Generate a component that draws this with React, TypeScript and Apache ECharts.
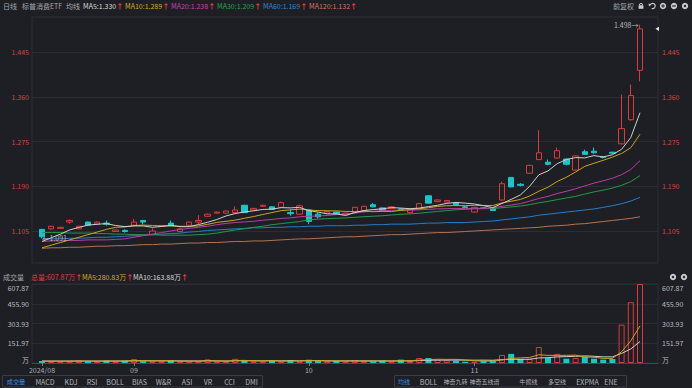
import React, { useEffect, useRef } from 'react';
import * as echarts from 'echarts';

const W = 692;
const H = 388;
const BG = '#1e1f24';
const UP = '#d93b3b';
const DOWN = '#1fc4c8';
const RED_TXT = '#dc403b';
const GRID_LINE = '#2c2d33';
const FONT = '"Noto Sans CJK SC", "Noto Sans", sans-serif';

const dates = [
  '2024-08-19', '2024-08-20', '2024-08-21', '2024-08-22', '2024-08-23', '2024-08-26', '2024-08-27', '2024-08-28', '2024-08-29', '2024-08-30',
  '2024-09-02', '2024-09-03', '2024-09-04', '2024-09-05', '2024-09-06', '2024-09-09', '2024-09-10', '2024-09-11', '2024-09-12', '2024-09-13',
  '2024-09-18', '2024-09-19', '2024-09-20', '2024-09-23', '2024-09-24', '2024-09-25', '2024-09-26', '2024-09-27', '2024-09-30',
  '2024-10-08', '2024-10-09', '2024-10-10', '2024-10-11', '2024-10-14', '2024-10-15', '2024-10-16', '2024-10-17', '2024-10-18',
  '2024-10-21', '2024-10-22', '2024-10-23', '2024-10-24', '2024-10-25', '2024-10-28', '2024-10-29', '2024-10-30', '2024-10-31',
  '2024-11-01', '2024-11-04', '2024-11-05', '2024-11-06', '2024-11-07', '2024-11-08', '2024-11-11', '2024-11-12', '2024-11-13',
  '2024-11-14', '2024-11-15', '2024-11-18', '2024-11-19', '2024-11-20', '2024-11-21', '2024-11-22', '2024-11-25', '2024-11-26', '2024-11-27',
];

const opens = [
  1.108, 1.109, 1.110, 1.122, 1.109, 1.122, 1.118, 1.120, 1.104, 1.106,
  1.116, 1.125, 1.098, 1.114, 1.120, 1.104, 1.116, 1.122, 1.133, 1.139,
  1.139, 1.140, 1.154, 1.145, 1.152, 1.151, 1.150, 1.140, 1.137,
  1.145, 1.137, 1.139, 1.141, 1.136, 1.140, 1.144, 1.155, 1.149, 1.148, 1.147, 1.140, 1.147, 1.172, 1.161, 1.160, 1.159, 1.151,
  1.141, 1.149, 1.148, 1.164, 1.207, 1.194, 1.215, 1.241, 1.236, 1.244, 1.242, 1.221, 1.256, 1.257, 1.246, 1.255, 1.271, 1.317, 1.411,
];
const closes = [
  1.094, 1.114, 1.112, 1.125, 1.114, 1.116, 1.122, 1.118, 1.107, 1.104,
  1.122, 1.122, 1.105, 1.115, 1.115, 1.109, 1.122, 1.125, 1.137, 1.141,
  1.143, 1.145, 1.140, 1.148, 1.154, 1.146, 1.159, 1.138, 1.153,
  1.123, 1.132, 1.142, 1.137, 1.139, 1.150, 1.152, 1.151, 1.144, 1.151, 1.145, 1.146, 1.157, 1.158, 1.164, 1.163, 1.155, 1.150,
  1.150, 1.148, 1.144, 1.195, 1.189, 1.192, 1.230, 1.254, 1.232, 1.258, 1.232, 1.248, 1.251, 1.254, 1.245, 1.253, 1.300, 1.363, 1.490,
];
const lows = [
  1.091, 1.108, 1.109, 1.119, 1.108, 1.115, 1.117, 1.115, 1.103, 1.102,
  1.115, 1.118, 1.097, 1.113, 1.114, 1.103, 1.115, 1.118, 1.132, 1.138,
  1.138, 1.139, 1.139, 1.144, 1.151, 1.145, 1.149, 1.134, 1.136,
  1.118, 1.129, 1.138, 1.136, 1.135, 1.139, 1.143, 1.150, 1.143, 1.147, 1.144, 1.139, 1.146, 1.157, 1.160, 1.159, 1.154, 1.149,
  1.140, 1.147, 1.143, 1.163, 1.188, 1.190, 1.214, 1.240, 1.230, 1.243, 1.230, 1.220, 1.250, 1.252, 1.243, 1.252, 1.270, 1.315, 1.390,
];
const highs = [
  1.109, 1.115, 1.113, 1.127, 1.115, 1.123, 1.123, 1.125, 1.108, 1.108,
  1.128, 1.126, 1.110, 1.116, 1.125, 1.110, 1.123, 1.135, 1.138, 1.142,
  1.144, 1.152, 1.155, 1.149, 1.155, 1.152, 1.161, 1.147, 1.155,
  1.146, 1.140, 1.143, 1.142, 1.140, 1.151, 1.153, 1.158, 1.150, 1.152, 1.148, 1.147, 1.158, 1.173, 1.165, 1.164, 1.160, 1.152,
  1.151, 1.150, 1.149, 1.199, 1.208, 1.196, 1.231, 1.297, 1.241, 1.264, 1.243, 1.249, 1.260, 1.264, 1.248, 1.256, 1.365, 1.384, 1.498,
];
// volume, 万
const volumes = [
  15, 13, 13, 13, 20, 13, 13, 18, 13, 18,
  30, 13, 13, 13, 20, 12, 12, 12, 28, 12, 12, 32, 18, 12, 12, 18, 13, 23, 13,
  25, 15, 13, 15, 13, 21, 13, 13, 18, 13, 26, 16, 38, 38, 26, 21, 18, 10,
  10, 16, 18, 62, 70, 31, 31, 123, 38, 70, 33, 38, 49, 33, 26, 31, 295, 468, 607.87,
];

const ma5Lead = [1.085, 1.092, 1.099, 1.107];
const ma10Lead = [1.073, 1.078, 1.083, 1.088, 1.093, 1.098, 1.103, 1.108, 1.112];
const ma20Lead = [1.085, 1.086, 1.086, 1.087, 1.087, 1.088, 1.088, 1.088, 1.089, 1.090, 1.093, 1.096, 1.099, 1.102, 1.105, 1.108, 1.110, 1.112, 1.114];
const ma30Lead = [
  1.102, 1.102, 1.102, 1.101, 1.101, 1.101, 1.100, 1.100, 1.099, 1.099,
  1.098, 1.098, 1.098, 1.097, 1.097, 1.097, 1.097, 1.098, 1.099,
  1.101, 1.104, 1.107, 1.109, 1.112, 1.114, 1.117, 1.119, 1.121, 1.123,
];
const ma60Values = [
  1.089, 1.090, 1.090, 1.091, 1.091, 1.092, 1.093, 1.093, 1.094, 1.095,
  1.096, 1.097, 1.098, 1.099, 1.100, 1.101, 1.103, 1.104, 1.106, 1.107,
  1.108, 1.109, 1.110, 1.111, 1.111, 1.112, 1.112, 1.113, 1.113, 1.114,
  1.114, 1.115, 1.115, 1.115, 1.116, 1.116, 1.117, 1.117, 1.118, 1.118,
  1.118, 1.119, 1.120, 1.120, 1.121, 1.121, 1.121, 1.122, 1.123, 1.124,
  1.126, 1.128, 1.130, 1.132, 1.135, 1.137, 1.139, 1.141, 1.143, 1.145,
  1.147, 1.150, 1.153, 1.157, 1.162, 1.169,
];
const ma120Values = [
  1.072, 1.073, 1.073, 1.074, 1.074, 1.075, 1.076, 1.076, 1.077, 1.077,
  1.078, 1.079, 1.079, 1.080, 1.080, 1.081, 1.082, 1.082, 1.083, 1.083,
  1.084, 1.085, 1.085, 1.086, 1.086, 1.087, 1.088, 1.089, 1.090, 1.090,
  1.091, 1.092, 1.093, 1.094, 1.094, 1.095, 1.096, 1.097, 1.098, 1.098,
  1.099, 1.100, 1.101, 1.102, 1.102, 1.103, 1.104, 1.105, 1.106, 1.107,
  1.108, 1.109, 1.110, 1.111, 1.112, 1.114, 1.115, 1.116, 1.118, 1.119,
  1.121, 1.123, 1.125, 1.127, 1.129, 1.132,
];
const volMa5Lead = [14, 14, 14, 15];
const volMa10Lead = [15, 15, 15, 15, 15, 15, 15, 15, 15];

const priceTicks = [1.105, 1.19, 1.275, 1.36, 1.445];
const priceMin = 1.044;
const priceMax = 1.5126;
const volTicks = [0, 151.97, 303.93, 455.9, 607.87];
const volMax = 607.87;

const maLegend = [
  { text: 'MA5:1.330', color: '#d6d6d6', x: 83 },
  { text: 'MA10:1.289', color: '#d4ad1c', x: 125 },
  { text: 'MA20:1.238', color: '#c640b2', x: 171 },
  { text: 'MA30:1.209', color: '#27a24c', x: 217 },
  { text: 'MA60:1.169', color: '#2d86d6', x: 263 },
  { text: 'MA120:1.132', color: '#d7735a', x: 309 },
];
const volLegend = [
  { text: '总量:607.87万', color: '#dc403b', x: 31 },
  { text: 'MA5:280.83万', color: '#d4ad1c', x: 82 },
  { text: 'MA10:163.88万', color: '#d6d6d6', x: 133 },
];
// [label, centre x, font size]
const leftTabs = [
  ['成交量', 16, 6.2], ['MACD', 45, 7], ['KDJ', 71, 7], ['RSI', 92, 7], ['BOLL', 115, 7], ['BIAS', 139.5, 7],
  ['W&R', 163.5, 7], ['ASI', 187, 7], ['VR', 208, 7], ['CCI', 229.5, 7], ['DMI', 251.5, 7],
] as [string, number, number][];
const rightTabs = [
  ['均线', 404, 6], ['BOLL', 428.5, 7], ['神奇九转', 455.5, 6], ['神奇五线谱', 484.5, 6], ['牛熊线', 528.5, 6],
  ['多空线', 557, 6], ['EXPMA', 587.5, 7], ['ENE', 611, 7],
] as [string, number, number][];

const lineColors = {
  ma5: '#cfcfcf', ma10: '#c9a51c', ma20: '#b83da5', ma30: '#1f9a46', ma60: '#257dca', ma120: '#b9704f',
};

function movingAverage(src: number[], n: number, lead: number[], digits: number): number[] {
  return src.map((_, i) => {
    if (i < n - 1) return lead[i];
    let s = 0;
    for (let k = i - n + 1; k <= i; k++) s += src[k];
    return +(s / n).toFixed(digits);
  });
}

const isMonthStart = (i: number) => i === 0 || dates[i].slice(0, 7) !== dates[i - 1].slice(0, 7);
const monthLabel = (i: number) => (i === 0 ? dates[0].slice(0, 7).replace('-', '/') : dates[i].slice(5, 7));

function txt(x: number, y: number, text: string, fill: string, align: string = 'left', size = 7) {
  return {
    type: 'text', x, y, silent: true,
    style: { text, fill, fontSize: size, fontFamily: FONT, align, verticalAlign: 'middle' },
  };
}
function legendTxt(x: number, y: number, text: string, color: string) {
  return {
    type: 'text', x, y, silent: true,
    style: {
      text: `{a|${text}}{b|↑}`,
      verticalAlign: 'middle',
      rich: {
        a: { fill: color, fontSize: 7, fontFamily: FONT },
        b: { fill: '#ff3b3b', fontSize: 7, fontFamily: FONT, fontWeight: 'bold' },
      },
    },
  };
}

function buildGraphics(): any[] {
  const g: any[] = [];
  g.push(txt(3, 6, '日线', '#a6a8ad'));
  g.push(txt(22, 6, '标普消费ETF', '#a6a8ad'));
  g.push(txt(66, 6, '均线', '#a6a8ad'));
  maLegend.forEach((m) => g.push(legendTxt(m.x, 6, m.text, m.color)));
  g.push(txt(613, 6, '前复权', '#a6a8ad'));
  // top-right icons
  const ic = '#c9cace';
  g.push({ type: 'rect', shape: { x: 638.6, y: 5.2, width: 4.8, height: 3.6 }, style: { fill: ic }, silent: true });
  g.push({ type: 'arc', shape: { cx: 641, cy: 5, r: 1.6, startAngle: Math.PI, endAngle: 0, clockwise: true }, style: { stroke: ic, lineWidth: 1, fill: 'none' }, silent: true });
  g.push({ type: 'arc', shape: { cx: 652.5, cy: 6, r: 2.6, startAngle: -Math.PI * 0.9, endAngle: Math.PI * 0.6, clockwise: true }, style: { stroke: ic, lineWidth: 1.1, fill: 'none' }, silent: true });
  g.push({ type: 'polygon', shape: { points: [[648.6, 3.4], [651.2, 4.4], [649, 6.4]] }, style: { fill: ic }, silent: true });
  [663, 674, 685].forEach((cx, k) => {
    g.push({ type: 'circle', shape: { cx, cy: 6, r: 3.2 }, style: { fill: ic }, silent: true });
    if (k === 0) {
      g.push({ type: 'line', shape: { x1: cx - 1.8, y1: 6, x2: cx + 1.8, y2: 6 }, style: { stroke: BG, lineWidth: 1 }, silent: true });
      g.push({ type: 'line', shape: { x1: cx, y1: 4.2, x2: cx, y2: 7.8 }, style: { stroke: BG, lineWidth: 1 }, silent: true });
    } else if (k === 1) {
      g.push({ type: 'line', shape: { x1: cx - 1.8, y1: 6, x2: cx + 1.8, y2: 6 }, style: { stroke: BG, lineWidth: 1.2 }, silent: true });
    } else {
      g.push({ type: 'circle', shape: { cx, cy: 6, r: 1.2 }, style: { fill: BG }, silent: true });
    }
  });
  // volume pane header
  g.push(txt(3, 276.5, '成交量', '#a6a8ad'));
  volLegend.forEach((m) => g.push(legendTxt(m.x, 276.5, m.text, m.color)));
  [673, 684].forEach((cx) => {
    g.push({ type: 'circle', shape: { cx, cy: 277, r: 3.2 }, style: { fill: ic }, silent: true });
    g.push({ type: 'circle', shape: { cx, cy: 277, r: 1.2 }, style: { fill: BG }, silent: true });
  });
  // bottom tab bars
  g.push({ type: 'rect', shape: { x: 2.5, y: 375.5, width: 260, height: 11.5 }, style: { fill: 'none', stroke: '#3a3c43', lineWidth: 1 }, silent: true });
  g.push({ type: 'rect', shape: { x: 394.5, y: 375.5, width: 232, height: 11.5 }, style: { fill: 'none', stroke: '#3a3c43', lineWidth: 1 }, silent: true });
  leftTabs.forEach(([t, x, s], k) => g.push(txt(x, 381.5, t, k === 0 ? '#3b8fe6' : '#b4b6bb', 'center', s)));
  rightTabs.forEach(([t, x, s], k) => g.push(txt(x, 381.5, t, k === 0 ? '#3b8fe6' : '#b4b6bb', 'center', s)));
  return g.map((e, i) => ({ ...e, id: 'g' + i }));
}

function buildOption(): any {
  const ma5 = movingAverage(closes, 5, ma5Lead, 4);
  const ma10 = movingAverage(closes, 10, ma10Lead, 4);
  const ma20 = movingAverage(closes, 20, ma20Lead, 4);
  const ma30 = movingAverage(closes, 30, ma30Lead, 4);
  const vma5 = movingAverage(volumes, 5, volMa5Lead, 2);
  const vma10 = movingAverage(volumes, 10, volMa10Lead, 2);

  let hiIdx = 0;
  let loIdx = 0;
  highs.forEach((v, i) => { if (v > highs[hiIdx]) hiIdx = i; });
  lows.forEach((v, i) => { if (v < lows[loIdx]) loIdx = i; });

  const labelStyle = { color: RED_TXT, fontSize: 7, fontFamily: FONT };
  const volLabelStyle = { color: '#b9bbc0', fontSize: 7, fontFamily: FONT };

  const maLine = (name: string, data: number[], color: string) => ({
    name, type: 'line', xAxisIndex: 1, yAxisIndex: 2, data, symbol: 'none', showSymbol: false,
    lineStyle: { width: 1, color }, itemStyle: { color }, silent: true, z: 3,
  });

  return {
    animation: false,
    backgroundColor: BG,
    textStyle: { fontFamily: FONT },
    grid: [
      { left: 32, right: 34, top: 17, height: 246, show: true, borderColor: GRID_LINE, borderWidth: 1, outerBoundsMode: 'none' },
      { left: 37.4, right: 47.4, top: 17, height: 246, outerBoundsMode: 'none' },
      { left: 32, right: 34, top: 284, height: 79, show: true, borderColor: GRID_LINE, borderWidth: 1, outerBoundsMode: 'none' },
      { left: 37.4, right: 47.4, top: 284, height: 79, outerBoundsMode: 'none' },
    ],
    xAxis: [
      { type: 'value', gridIndex: 0, min: 0, max: 1, show: false },
      { type: 'category', gridIndex: 1, data: dates, boundaryGap: true, show: false },
      {
        type: 'value', gridIndex: 2, min: 0, max: 1, show: true,
        axisLine: { show: true, onZero: false, lineStyle: { color: '#45474e' } },
        axisTick: { show: false }, axisLabel: { show: false }, splitLine: { show: false },
      },
      {
        type: 'category', gridIndex: 3, data: dates, boundaryGap: true,
        axisLine: { show: false },
        axisTick: { show: true, interval: (i: number) => isMonthStart(i), alignWithLabel: true, length: 3, lineStyle: { color: '#7a7c82' } },
        axisLabel: {
          interval: 0, margin: 3, color: '#a9abb0', fontSize: 7, fontFamily: FONT,
          formatter: (_v: string, i: number) => (isMonthStart(i) ? monthLabel(i) : ''),
        },
        splitLine: { show: false },
      },
    ],
    yAxis: [
      {
        type: 'value', gridIndex: 0, position: 'left', min: priceMin, max: priceMax,
        axisLine: { show: false },
        axisTick: { show: false, customValues: priceTicks },
        axisLabel: { customValues: priceTicks, margin: 3, formatter: (v: number) => v.toFixed(3), ...labelStyle },
        splitLine: { show: true, lineStyle: { color: GRID_LINE, width: 1 } },
      },
      {
        type: 'value', gridIndex: 0, position: 'right', min: priceMin, max: priceMax,
        axisLine: { show: false },
        axisTick: { show: false, customValues: priceTicks },
        axisLabel: { customValues: priceTicks, margin: 4, formatter: (v: number) => v.toFixed(3), ...labelStyle },
        splitLine: { show: false },
      },
      { type: 'value', gridIndex: 1, min: priceMin, max: priceMax, show: false, splitLine: { show: false } },
      {
        type: 'value', gridIndex: 2, position: 'left', min: 0, max: volMax,
        axisLine: { show: false },
        axisTick: { show: false, customValues: volTicks },
        axisLabel: {
          customValues: volTicks, margin: 3, verticalAlignMinLabel: 'bottom', verticalAlignMaxLabel: 'top',
          formatter: (v: number) => (v === 0 ? '万' : v.toFixed(2)), ...volLabelStyle,
        },
        splitLine: { show: true, lineStyle: { color: GRID_LINE, width: 1 } },
      },
      {
        type: 'value', gridIndex: 2, position: 'right', min: 0, max: volMax,
        axisLine: { show: false },
        axisTick: { show: false, customValues: volTicks },
        axisLabel: {
          customValues: volTicks, margin: 4, verticalAlignMinLabel: 'bottom', verticalAlignMaxLabel: 'top',
          formatter: (v: number) => (v === 0 ? '万' : v.toFixed(2)), ...volLabelStyle,
        },
        splitLine: { show: false },
      },
      { type: 'value', gridIndex: 3, min: 0, max: volMax, show: false, splitLine: { show: false } },
    ],
    series: [
      {
        name: 'K', type: 'candlestick', xAxisIndex: 1, yAxisIndex: 2, barWidth: 6, z: 2,
        data: dates.map((_, i) => [opens[i], closes[i], lows[i], highs[i]]),
        itemStyle: { color: 'rgba(0,0,0,0)', color0: DOWN, borderColor: UP, borderColor0: DOWN, borderWidth: 1 },
        markPoint: {
          symbol: 'circle', symbolSize: 1, itemStyle: { color: 'rgba(0,0,0,0)' }, silent: true,
          data: [
            {
              coord: [dates[hiIdx], highs[hiIdx]], value: highs[hiIdx],
              label: { show: true, position: 'left', distance: 1, formatter: highs[hiIdx].toFixed(3) + '→', color: '#b4b6bb', fontSize: 7, fontFamily: FONT },
            },
            {
              coord: [dates[loIdx], lows[loIdx]], value: lows[loIdx],
              label: { show: true, position: 'right', distance: 0, formatter: '←' + lows[loIdx].toFixed(3), color: '#b4b6bb', fontSize: 7, fontFamily: FONT },
            },
          ],
        },
      },
      maLine('MA120', ma120Values, lineColors.ma120),
      maLine('MA60', ma60Values, lineColors.ma60),
      maLine('MA30', ma30, lineColors.ma30),
      maLine('MA20', ma20, lineColors.ma20),
      maLine('MA10', ma10, lineColors.ma10),
      maLine('MA5', ma5, lineColors.ma5),
      {
        name: 'VOL', type: 'bar', xAxisIndex: 3, yAxisIndex: 5, barWidth: 6, silent: true,
        data: volumes.map((v, i) => ({
          value: v,
          itemStyle: closes[i] >= opens[i]
            ? { color: 'rgba(0,0,0,0)', borderColor: UP, borderWidth: 1 }
            : { color: DOWN },
        })),
      },
      {
        name: 'VMA10', type: 'line', xAxisIndex: 3, yAxisIndex: 5, data: vma10, symbol: 'none', silent: true,
        lineStyle: { width: 1, color: lineColors.ma5 }, z: 3,
      },
      {
        name: 'VMA5', type: 'line', xAxisIndex: 3, yAxisIndex: 5, data: vma5, symbol: 'none', silent: true,
        lineStyle: { width: 1, color: lineColors.ma10 }, z: 3,
      },
    ],
    graphic: buildGraphics(),
  };
}

export default function App() {
  const ref = useRef<HTMLDivElement>(null);
  useEffect(() => {
    if (!ref.current) return;
    const chart = echarts.init(ref.current, null, { renderer: 'svg' });
    chart.setOption(buildOption());
    const lastClose = closes[closes.length - 1];
    const py = chart.convertToPixel({ yAxisIndex: 2 }, lastClose) as unknown as number;
    if (typeof py === 'number' && isFinite(py)) {
      chart.setOption({
        graphic: [{
          id: 'lastPriceMark', type: 'polygon', silent: true,
          shape: { points: [[655.5, py], [659, py - 2.2], [659, py + 2.2]] },
          style: { fill: '#e6e6e6' },
        }],
      });
    }
    return () => chart.dispose();
  }, []);
  return (
    <div
      ref={ref}
      style={{ position: 'fixed', left: 0, top: 0, width: W, height: H, background: BG }}
    />
  );
}
